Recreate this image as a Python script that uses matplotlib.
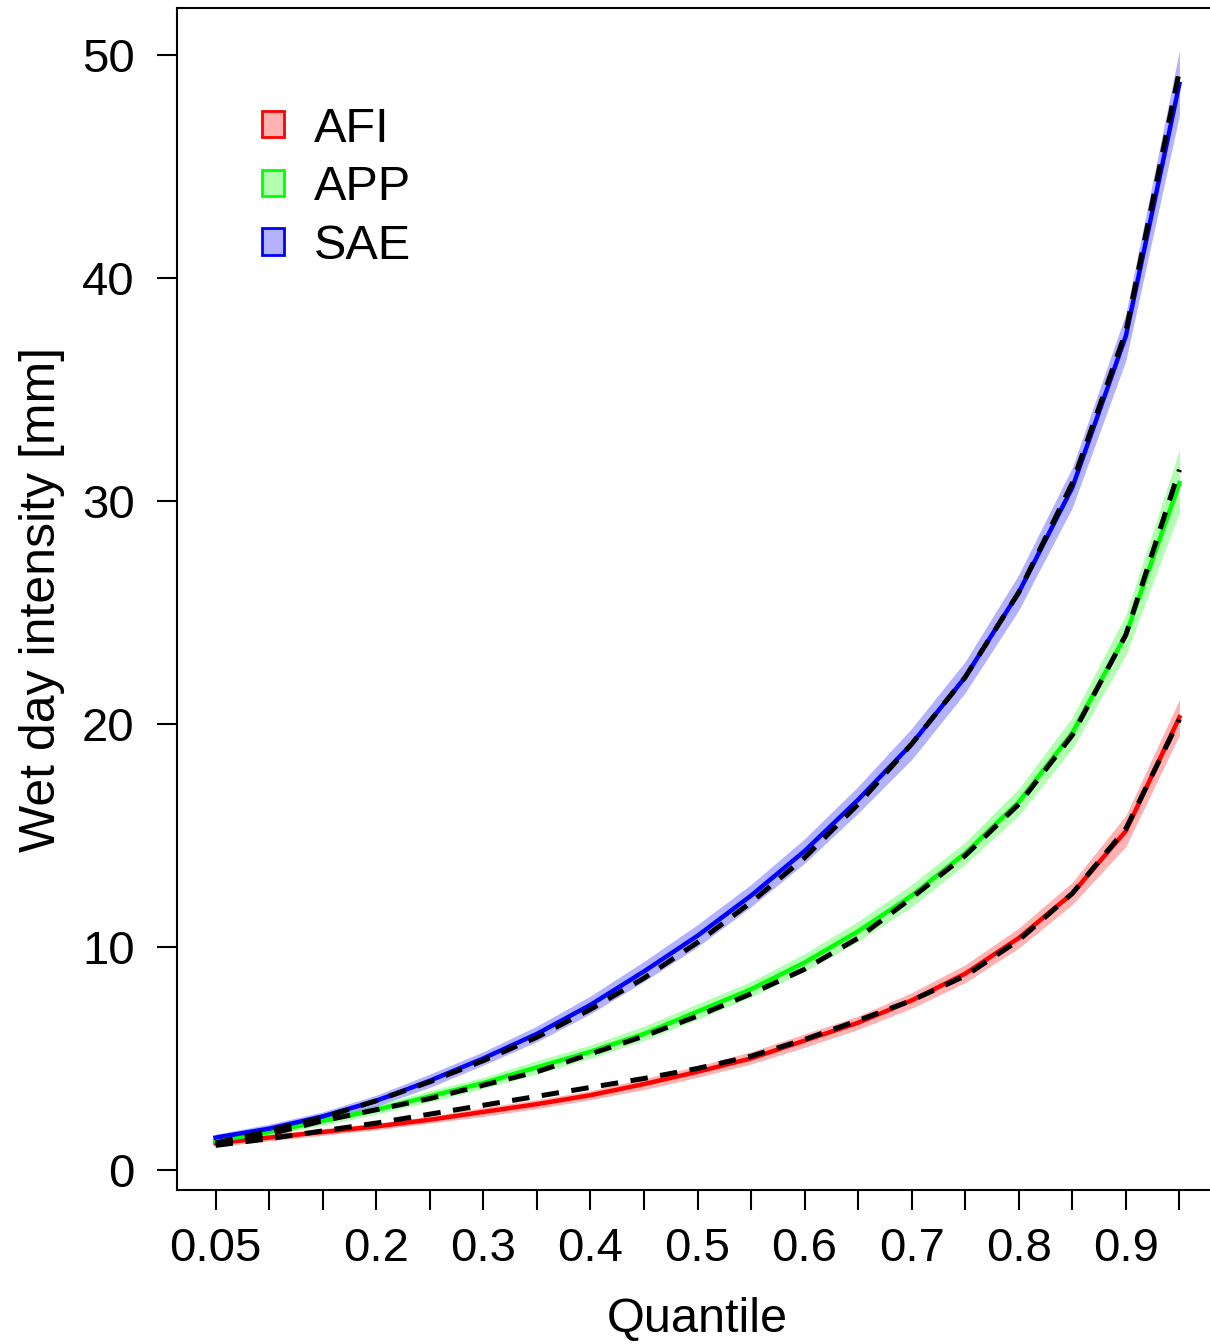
import numpy as np
import matplotlib.pyplot as plt
from matplotlib.patches import Patch
from matplotlib.colors import to_rgb

plt.rcParams['font.family'] = ['Liberation Sans', 'DejaVu Sans']

# quantis
quantis = np.round(np.arange(0.05, 0.951, 0.05), 2)

# medianas (linhas cheias) e observado (tracejado)
afi = [1.2, 1.45, 1.7, 1.95, 2.25, 2.6, 2.95, 3.35, 3.85, 4.4, 5.0, 5.8, 6.6, 7.6, 8.8, 10.4, 12.4, 15.2, 20.3]
afi_obs = [1.1, 1.4, 1.75, 2.1, 2.5, 2.9, 3.3, 3.7, 4.1, 4.55, 5.1, 5.85, 6.7, 7.6, 8.7, 10.3, 12.4, 15.3, 20.2]
afi_lo = [1.05, 1.3, 1.55, 1.8, 2.1, 2.4, 2.75, 3.15, 3.6, 4.15, 4.75, 5.5, 6.3, 7.25, 8.4, 9.95, 11.9, 14.5, 19.5]
afi_hi = [1.35, 1.6, 1.85, 2.1, 2.4, 2.8, 3.15, 3.55, 4.1, 4.65, 5.3, 6.1, 6.9, 7.95, 9.2, 10.85, 12.9, 15.9, 21.1]

app = [1.3, 1.7, 2.2, 2.7, 3.3, 3.9, 4.6, 5.3, 6.1, 7.1, 8.1, 9.3, 10.7, 12.3, 14.2, 16.5, 19.6, 24.0, 30.8]
app_obs = [1.2, 1.6, 2.2, 2.7, 3.2, 3.8, 4.4, 5.2, 6.0, 6.9, 7.9, 9.0, 10.4, 12.2, 14.1, 16.4, 19.5, 24.0, 31.4]
app_lo = [1.15, 1.55, 2.0, 2.5, 3.05, 3.65, 4.3, 5.0, 5.8, 6.75, 7.75, 8.9, 10.25, 11.8, 13.7, 15.9, 18.9, 23.1, 29.5]
app_hi = [1.45, 1.85, 2.4, 2.9, 3.55, 4.15, 4.9, 5.6, 6.45, 7.45, 8.45, 9.7, 11.15, 12.8, 14.7, 17.1, 20.3, 24.9, 32.3]

sae = [1.45, 1.85, 2.4, 3.1, 4.0, 5.0, 6.1, 7.4, 8.9, 10.5, 12.3, 14.3, 16.6, 19.1, 22.1, 25.9, 30.6, 37.4, 48.7]
sae_obs = [1.2, 1.75, 2.35, 3.1, 3.95, 4.9, 5.95, 7.2, 8.6, 10.2, 12.0, 14.0, 16.4, 19.1, 22.1, 25.9, 30.8, 37.6, 49.3]
sae_lo = [1.25, 1.65, 2.2, 2.85, 3.7, 4.7, 5.75, 7.0, 8.45, 10.0, 11.8, 13.75, 16.0, 18.4, 21.4, 25.1, 29.7, 36.3, 47.3]
sae_hi = [1.6, 2.05, 2.6, 3.35, 4.3, 5.3, 6.45, 7.8, 9.35, 11.0, 12.8, 14.85, 17.2, 19.8, 22.8, 26.7, 31.5, 38.4, 50.2]

nomes = ['AFI', 'APP', 'SAE']
cores = ['#FF0000', '#00FF00', '#0000FF']
medianas = [afi, app, sae]
observados = [afi_obs, app_obs, sae_obs]
inferiores = [afi_lo, app_lo, sae_lo]
superiores = [afi_hi, app_hi, sae_hi]

fig = plt.figure(figsize=(12.1, 13.44), dpi=100)
ax = fig.add_axes([177 / 1210, 1 - 1190 / 1344, (1218 - 177) / 1210, (1190 - 8) / 1344])

for cor, med, lo, hi in zip(cores, medianas, inferiores, superiores):
    ax.fill_between(quantis, lo, hi, color=cor, alpha=0.3, lw=0)
    ax.plot(quantis, med, color=cor, lw=3.2)
for obs in observados:
    ax.plot(quantis, obs, color='black', lw=3.6, dashes=(3.5, 2.5))

ax.set_xlim(0.05 - 0.036, 0.95 + 0.036)
ax.set_ylim(-0.9, 52.1)

ax.set_xticks(quantis)
rotulos = []
for q in quantis:
    if q == 0.05:
        rotulos.append('0.05')
    elif abs(q * 10 - round(q * 10)) < 1e-6 and q >= 0.2:
        rotulos.append('%g' % q)
    else:
        rotulos.append('')
ax.set_xticklabels(rotulos)
ax.set_yticks([0, 10, 20, 30, 40, 50])

ax.tick_params(axis='both', labelsize=34, length=14.5, width=1.5, direction='out')
ax.tick_params(axis='y', pad=16)
ax.tick_params(axis='x', pad=12)
for s in ax.spines.values():
    s.set_linewidth(1.5)

ax.set_xlabel('Quantile', fontsize=35, labelpad=19)
ax.set_ylabel('Wet day intensity [mm]', fontsize=36, labelpad=12)

# legenda
handles = []
for c in cores:
    r, g, b = to_rgb(c)
    handles.append(Patch(facecolor=(r, g, b, 0.3), edgecolor=c, lw=2))
ax.legend(handles, nomes, loc='upper left', bbox_to_anchor=(0.063, 0.933), frameon=False,
          fontsize=35, handlelength=0.45, handleheight=0.45, handletextpad=0.62,
          labelspacing=0.28, borderaxespad=0)

fig.savefig('out.png', dpi=100)
